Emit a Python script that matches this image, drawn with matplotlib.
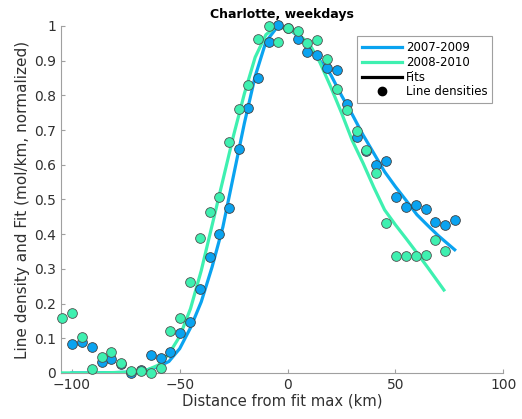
import numpy as np
import matplotlib
matplotlib.use("Agg")
import matplotlib.pyplot as plt
from matplotlib.lines import Line2D

# sample positions (km from fit max)
dist = [-104.6, -100, -95.4, -90.7, -86.1, -81.7, -77.1, -72.5, -68.1, -63.5,
        -58.9, -54.4, -49.8, -45.2, -40.8, -36.1, -31.7, -27.1, -22.4, -18.1,
        -13.5, -8.8, -4.5, 0.1, 4.7, 9.1, 13.8, 18.4, 23.1, 27.7,
        32.2, 36.5, 41.1, 45.7, 50.2, 54.8, 59.5, 64.1, 68.6, 73.1, 77.7]

# line densities, 2007-2009 (starts at -100)
dens_0709 = [0.082, 0.089, 0.075, 0.032, 0.041, 0.027, 0.001, 0.009, 0.052,
             0.042, 0.059, 0.114, 0.148, 0.241, 0.333, 0.401, 0.476, 0.646, 0.765,
             0.849, 0.955, 1.003, 0.995, 0.962, 0.924, 0.916, 0.880, 0.873, 0.774,
             0.681, 0.640, 0.600, 0.612, 0.506, 0.479, 0.483, 0.472, 0.434, 0.425,
             0.440]

# line densities, 2008-2010 (starts at -104.6, ends at 73.1)
dens_0810 = [0.157, 0.173, 0.103, 0.011, 0.047, 0.059, 0.029, 0.005, 0.006, 0.0,
             0.013, 0.122, 0.158, 0.263, 0.388, 0.465, 0.507, 0.665, 0.760, 0.831,
             0.963, 1.0, 0.953, 0.993, 0.985, 0.950, 0.960, 0.904, 0.818, 0.758,
             0.697, 0.642, 0.575, 0.433, 0.338, 0.337, 0.337, 0.341, 0.383, 0.352]

# fitted curves
fit_x_0709 = [-100, -90, -80, -75, -70, -65, -60, -55, -50, -45, -40, -35, -30,
              -25, -20, -15, -10, -5, -2.5, 0, 5, 10, 15, 20, 25, 30, 35, 40,
              45, 50, 55, 60, 65, 70, 77.5]
fit_y_0709 = [0.0, 0.0, 0.001, 0.002, 0.004, 0.009, 0.018, 0.033, 0.07, 0.13,
              0.205, 0.305, 0.42, 0.57, 0.72, 0.855, 0.955, 0.995, 1.0, 0.995,
              0.97, 0.94, 0.90, 0.86, 0.80, 0.745, 0.686, 0.633, 0.58, 0.537,
              0.497, 0.456, 0.425, 0.395, 0.355]

fit_x_0810 = [-105, -90, -80, -75, -70, -65, -60, -55, -50, -45, -40, -35, -30,
              -25, -20, -15, -10, -5, 0, 5, 10, 15, 20, 25, 30, 35, 40, 45,
              50, 55, 60, 65, 72.5]
fit_y_0810 = [0.0, 0.0, 0.001, 0.002, 0.004, 0.009, 0.022, 0.055, 0.105, 0.185,
              0.295, 0.425, 0.555, 0.685, 0.805, 0.91, 0.975, 1.0, 0.99, 0.975,
              0.95, 0.895, 0.825, 0.75, 0.67, 0.605, 0.535, 0.47, 0.427, 0.387,
              0.346, 0.304, 0.239]

blue = "#0aa3f0"
green = "#3ef0b0"

plt.rcParams['font.family'] = ['DejaVu Sans']
fig = plt.figure(figsize=(5.22, 4.19), dpi=100)
ax = fig.add_axes([0.117, 0.110, 0.847, 0.828])

ax.plot(fit_x_0709, fit_y_0709, color=blue, lw=2.3, zorder=2)
ax.plot(fit_x_0810, fit_y_0810, color=green, lw=2.3, zorder=3)
ax.plot(dist[1:], dens_0709, 'o', ms=7.0, mfc=blue, mec='#404040', mew=0.6,
        zorder=4, clip_on=False)
ax.plot(dist[:-1], dens_0810, 'o', ms=7.0, mfc=green, mec='#505050', mew=0.6,
        zorder=5, clip_on=False)

ax.set_xlim(-105, 100)
ax.set_ylim(0, 1)
ax.set_xticks([-100, -50, 0, 50, 100])
ax.set_yticks(np.arange(0, 1.01, 0.1))
ax.set_yticklabels(["0", "0.1", "0.2", "0.3", "0.4", "0.5", "0.6", "0.7", "0.8", "0.9", "1"])
for s in ['top', 'right']:
    ax.spines[s].set_visible(False)
for s in ['left', 'bottom']:
    ax.spines[s].set_color('#a0a0a0')
ax.tick_params(direction='in', length=3, colors='#a0a0a0', labelcolor='#303030',
               labelsize=10)

ax.set_xlabel("Distance from fit max (km)", fontsize=10.6, color='#303030', labelpad=1)
ax.set_ylabel("Line density and Fit (mol/km, normalized)", fontsize=11,
              color='#303030', labelpad=3)
ax.set_title("Charlotte, weekdays", fontsize=9, fontweight='bold', pad=6)

handles = [Line2D([], [], color=blue, lw=2.3),
           Line2D([], [], color=green, lw=2.3),
           Line2D([], [], color='black', lw=2.3),
           Line2D([], [], ls='none', marker='o', color='black', ms=6)]
leg = ax.legend(handles, ["2007-2009", "2008-2010", "Fits", "Line densities"],
                loc='upper right', bbox_to_anchor=(0.975, 0.97), fontsize=8.5,
                fancybox=False, framealpha=1, edgecolor='#a0a0a0',
                handlelength=3.4, handletextpad=0.3, labelspacing=0.15,
                borderpad=0.4, borderaxespad=0)
leg.get_frame().set_linewidth(0.8)

fig.savefig("out.png", dpi=100)
